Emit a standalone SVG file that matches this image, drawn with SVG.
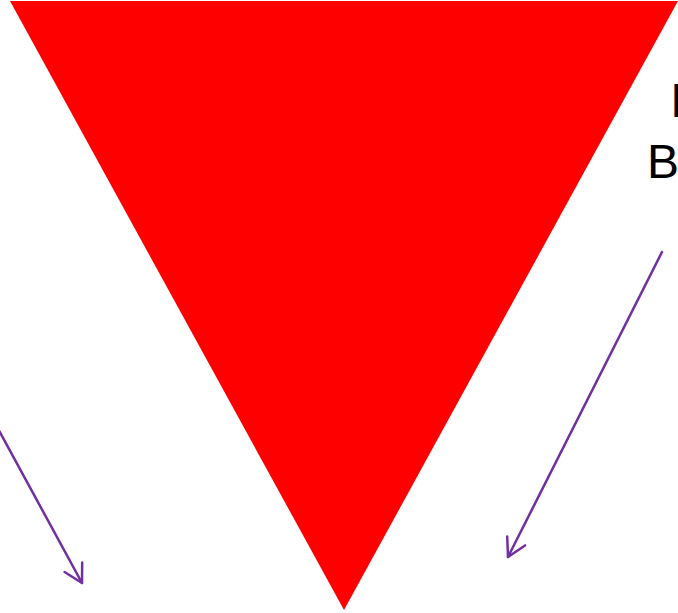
<svg xmlns="http://www.w3.org/2000/svg" width="678" height="613" viewBox="0 0 678 613">
  <defs>
    <style>
      .conn { stroke: #7030a0; stroke-width: 2.5; fill: none; stroke-linecap: round; }
      .lbl { font-family: "Liberation Sans", Arial, sans-serif; font-size: 48px; fill: #000000; }
    </style>
    <marker id="open" markerUnits="userSpaceOnUse" markerWidth="24" markerHeight="24" refX="18" refY="10" orient="auto" viewBox="-2 -2 24 24">
      <path d="M0,0 L18,10 L0,20" fill="none" stroke="#7030a0" stroke-width="2.5" stroke-linecap="round" stroke-linejoin="round"/>
    </marker>
  </defs>
  <rect width="678" height="613" fill="#ffffff"/>
  <g id="triangle">
    <polygon points="10,1 678,1 344,610" fill="#ff0000"/>
  </g>
  <g id="label">
    <text class="lbl" x="670" y="117">I</text>
    <text class="lbl" x="647" y="178">B</text>
  </g>
  <g id="connectors">
    <line class="conn" x1="-10" y1="414" x2="82" y2="583" marker-end="url(#open)"/>
    <line class="conn" x1="662" y1="252" x2="508" y2="557" marker-end="url(#open)"/>
  </g>
</svg>
